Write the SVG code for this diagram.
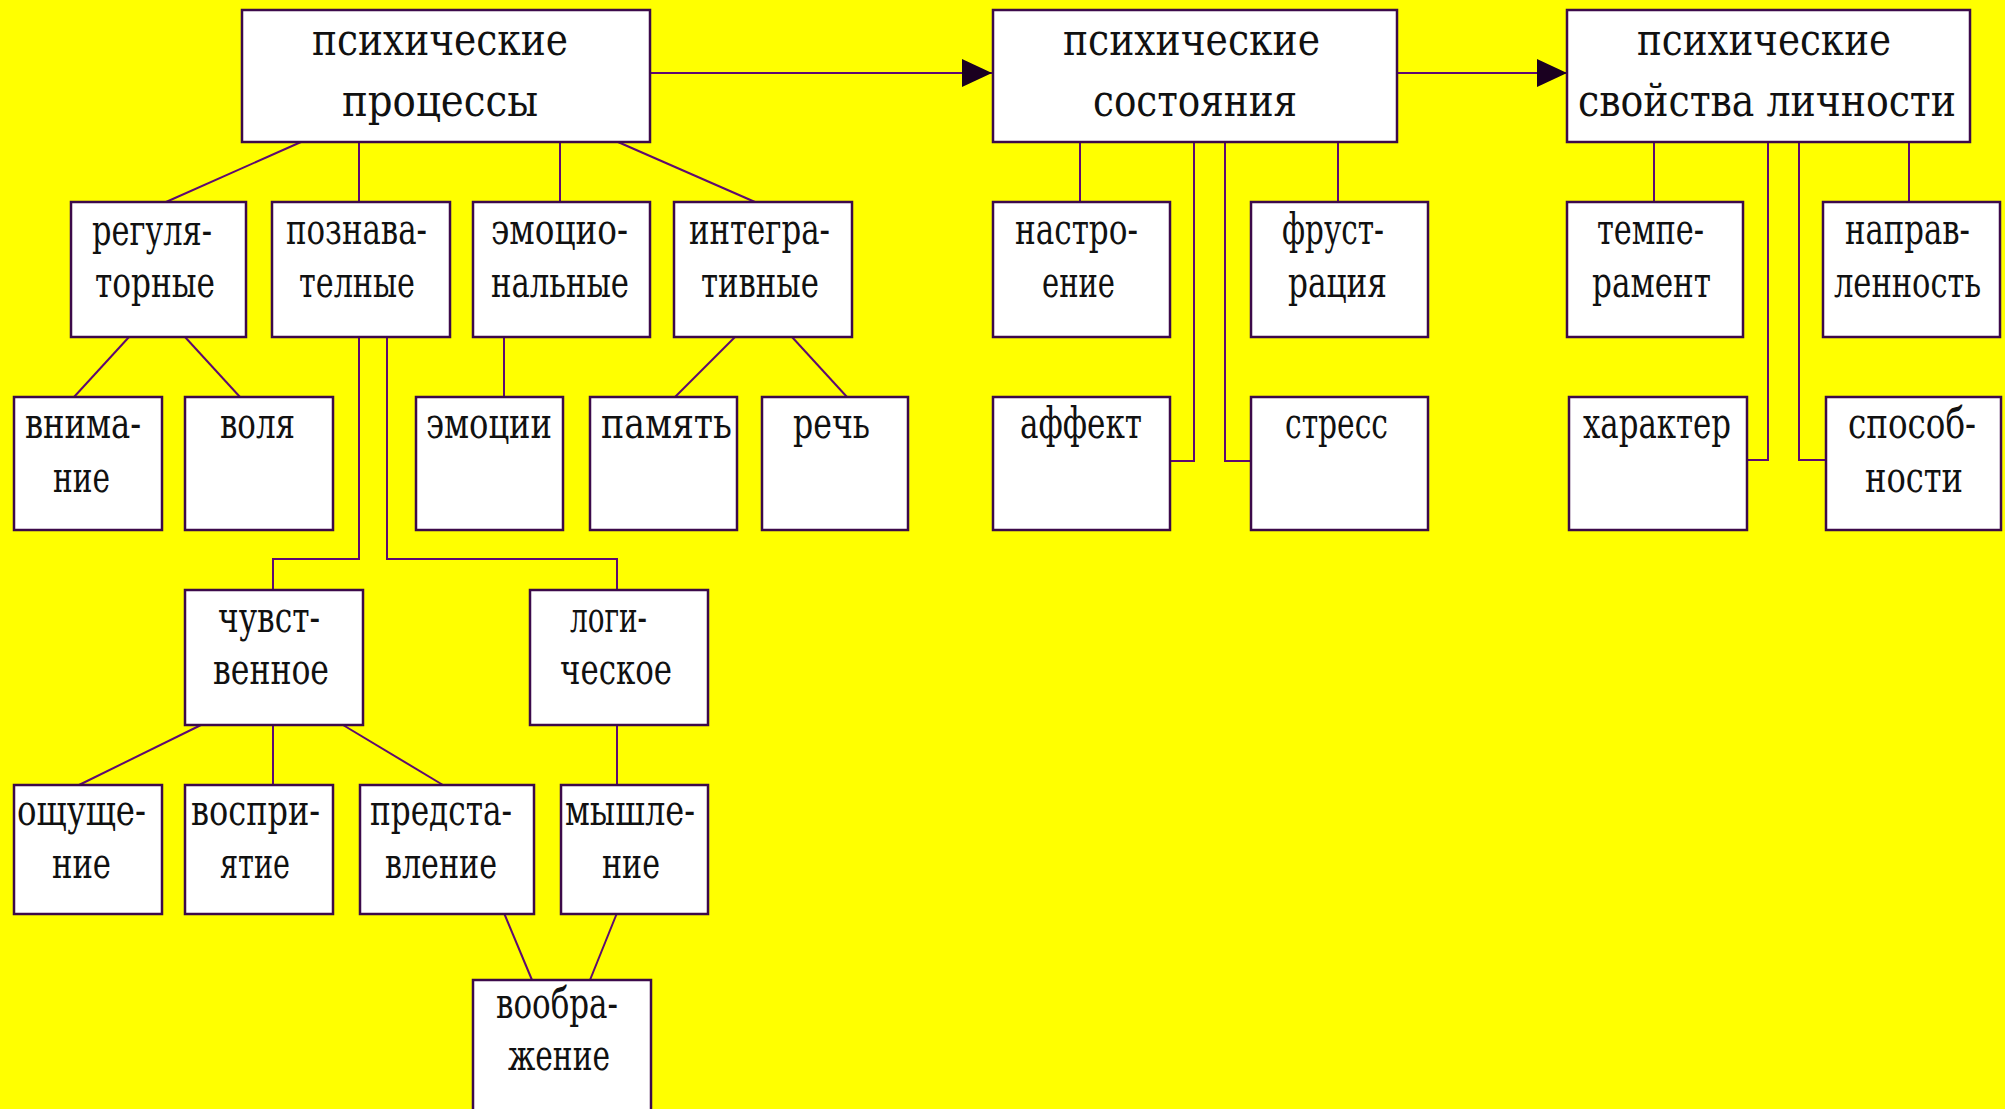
<svg xmlns="http://www.w3.org/2000/svg" width="2005" height="1109" viewBox="0 0 2005 1109">
<style>
.box{fill:#ffffff;stroke:#3c0a4a;stroke-width:2.5}
.ln{stroke:#5e0a70;stroke-width:2;fill:none}
.t{font-family:'DejaVu Serif Condensed','DejaVu Serif',serif;font-stretch:condensed;font-size:42px;fill:#111111}
.tt{font-size:44px}
.ts{font-size:36px}
</style>
<defs>
<marker id="arr" viewBox="0 0 30 28" refX="30" refY="14" markerWidth="30" markerHeight="28" markerUnits="userSpaceOnUse" orient="auto">
<path d="M0,0 L30,14 L0,28 Z" fill="#1a0020"/>
</marker>
</defs>
<rect x="0" y="0" width="2005" height="1109" fill="#ffff00"/>
<g id="connectors">
<line class="ln" x1="650" y1="73" x2="992" y2="73" marker-end="url(#arr)"/>
<line class="ln" x1="1397" y1="73" x2="1567" y2="73" marker-end="url(#arr)"/>
<line class="ln" x1="301" y1="142" x2="166" y2="202"/>
<line class="ln" x1="359" y1="142" x2="359" y2="202"/>
<line class="ln" x1="560" y1="142" x2="560" y2="202"/>
<line class="ln" x1="618" y1="142" x2="755" y2="202"/>
<line class="ln" x1="129" y1="337" x2="74" y2="397"/>
<line class="ln" x1="185" y1="337" x2="240" y2="397"/>
<line class="ln" x1="504" y1="337" x2="504" y2="397"/>
<line class="ln" x1="735" y1="337" x2="675" y2="397"/>
<line class="ln" x1="792" y1="337" x2="847" y2="397"/>
<polyline class="ln" points="359,337 359,559 273,559 273,590"/>
<polyline class="ln" points="387,337 387,559 617,559 617,590"/>
<line class="ln" x1="201" y1="725" x2="79" y2="785"/>
<line class="ln" x1="273" y1="725" x2="273" y2="785"/>
<line class="ln" x1="343" y1="725" x2="443" y2="785"/>
<line class="ln" x1="617" y1="725" x2="617" y2="785"/>
<line class="ln" x1="504" y1="913" x2="532" y2="980"/>
<line class="ln" x1="617" y1="913" x2="590" y2="980"/>
<line class="ln" x1="1080" y1="142" x2="1080" y2="202"/>
<polyline class="ln" points="1194,142 1194,461 1170,461"/>
<polyline class="ln" points="1225,142 1225,461 1251,461"/>
<line class="ln" x1="1338" y1="142" x2="1338" y2="202"/>
<line class="ln" x1="1654" y1="142" x2="1654" y2="202"/>
<polyline class="ln" points="1768,142 1768,460 1747,460"/>
<polyline class="ln" points="1799,142 1799,460 1826,460"/>
<line class="ln" x1="1909" y1="142" x2="1909" y2="202"/>
</g>
<g id="n-processes"><rect class="box" x="242" y="10" width="408" height="132"/>
<text class="t tt" x="312" y="55" textLength="256" lengthAdjust="spacingAndGlyphs">психические</text>
<text class="t tt" x="342" y="116" textLength="196" lengthAdjust="spacingAndGlyphs">процессы</text></g>
<g id="n-states"><rect class="box" x="993" y="10" width="404" height="132"/>
<text class="t tt" x="1063" y="55" textLength="257" lengthAdjust="spacingAndGlyphs">психические</text>
<text class="t tt" x="1093" y="116" textLength="204" lengthAdjust="spacingAndGlyphs">состояния</text></g>
<g id="n-properties"><rect class="box" x="1567" y="10" width="403" height="132"/>
<text class="t tt" x="1637" y="55" textLength="254" lengthAdjust="spacingAndGlyphs">психические</text>
<text class="t tt" x="1578" y="116" textLength="378" lengthAdjust="spacingAndGlyphs">свойства личности</text></g>

<g id="n-regulatory"><rect class="box" x="71" y="202" width="175" height="135"/>
<text class="t" x="92" y="245" textLength="120" lengthAdjust="spacingAndGlyphs">регуля-</text>
<text class="t" x="95" y="297" textLength="120" lengthAdjust="spacingAndGlyphs">торные</text></g>
<g id="n-cognitive"><rect class="box" x="272" y="202" width="178" height="135"/>
<text class="t" x="286" y="244" textLength="141" lengthAdjust="spacingAndGlyphs">познава-</text>
<text class="t" x="299" y="297" textLength="116" lengthAdjust="spacingAndGlyphs">телные</text></g>
<g id="n-emotional"><rect class="box" x="473" y="202" width="177" height="135"/>
<text class="t" x="491" y="244" textLength="137" lengthAdjust="spacingAndGlyphs">эмоцио-</text>
<text class="t" x="491" y="297" textLength="138" lengthAdjust="spacingAndGlyphs">нальные</text></g>
<g id="n-integrative"><rect class="box" x="674" y="202" width="178" height="135"/>
<text class="t" x="689" y="244" textLength="141" lengthAdjust="spacingAndGlyphs">интегра-</text>
<text class="t" x="701" y="297" textLength="118" lengthAdjust="spacingAndGlyphs">тивные</text></g>
<g id="n-mood"><rect class="box" x="993" y="202" width="177" height="135"/>
<text class="t" x="1015" y="244" textLength="123" lengthAdjust="spacingAndGlyphs">настро-</text>
<text class="t" x="1042" y="297" textLength="73" lengthAdjust="spacingAndGlyphs">ение</text></g>
<g id="n-frustration"><rect class="box" x="1251" y="202" width="177" height="135"/>
<text class="t" x="1282" y="244" textLength="102" lengthAdjust="spacingAndGlyphs">фруст-</text>
<text class="t" x="1288" y="297" textLength="99" lengthAdjust="spacingAndGlyphs">рация</text></g>
<g id="n-temperament"><rect class="box" x="1567" y="202" width="176" height="135"/>
<text class="t" x="1597" y="244" textLength="107" lengthAdjust="spacingAndGlyphs">темпе-</text>
<text class="t" x="1592" y="297" textLength="119" lengthAdjust="spacingAndGlyphs">рамент</text></g>
<g id="n-orientation"><rect class="box" x="1823" y="202" width="177" height="135"/>
<text class="t" x="1845" y="244" textLength="125" lengthAdjust="spacingAndGlyphs">направ-</text>
<text class="t ts" x="1834" y="297" textLength="147" lengthAdjust="spacingAndGlyphs" transform="translate(0,297) scale(1,1.17) translate(0,-297)">ленность</text></g>

<g id="n-attention"><rect class="box" x="14" y="397" width="148" height="133"/>
<text class="t" x="25" y="438" textLength="116" lengthAdjust="spacingAndGlyphs">внима-</text>
<text class="t" x="53" y="492" textLength="57" lengthAdjust="spacingAndGlyphs">ние</text></g>
<g id="n-will"><rect class="box" x="185" y="397" width="148" height="133"/>
<text class="t" x="220" y="438" textLength="75" lengthAdjust="spacingAndGlyphs">воля</text></g>
<g id="n-emotions"><rect class="box" x="416" y="397" width="147" height="133"/>
<text class="t" x="426" y="438" textLength="126" lengthAdjust="spacingAndGlyphs">эмоции</text></g>
<g id="n-memory"><rect class="box" x="590" y="397" width="147" height="133"/>
<text class="t" x="601" y="438" textLength="131" lengthAdjust="spacingAndGlyphs">память</text></g>
<g id="n-speech"><rect class="box" x="762" y="397" width="146" height="133"/>
<text class="t" x="793" y="438" textLength="77" lengthAdjust="spacingAndGlyphs">речь</text></g>
<g id="n-affect"><rect class="box" x="993" y="397" width="177" height="133"/>
<text class="t" x="1020" y="438" textLength="122" lengthAdjust="spacingAndGlyphs">аффект</text></g>
<g id="n-stress"><rect class="box" x="1251" y="397" width="177" height="133"/>
<text class="t" x="1285" y="438" textLength="103" lengthAdjust="spacingAndGlyphs">стресс</text></g>
<g id="n-character"><rect class="box" x="1569" y="397" width="178" height="133"/>
<text class="t" x="1583" y="438" textLength="148" lengthAdjust="spacingAndGlyphs">характер</text></g>
<g id="n-abilities"><rect class="box" x="1826" y="397" width="175" height="133"/>
<text class="t" x="1848" y="438" textLength="128" lengthAdjust="spacingAndGlyphs">способ-</text>
<text class="t" x="1865" y="492" textLength="98" lengthAdjust="spacingAndGlyphs">ности</text></g>

<g id="n-sensory"><rect class="box" x="185" y="590" width="178" height="135"/>
<text class="t" x="218" y="632" textLength="102" lengthAdjust="spacingAndGlyphs">чувст-</text>
<text class="t" x="213" y="684" textLength="116" lengthAdjust="spacingAndGlyphs">венное</text></g>
<g id="n-logical"><rect class="box" x="530" y="590" width="178" height="135"/>
<text class="t" x="570" y="632" textLength="77" lengthAdjust="spacingAndGlyphs">логи-</text>
<text class="t" x="560" y="684" textLength="112" lengthAdjust="spacingAndGlyphs">ческое</text></g>

<g id="n-sensation"><rect class="box" x="14" y="785" width="148" height="129"/>
<text class="t" x="17" y="825" textLength="129" lengthAdjust="spacingAndGlyphs">ощуще-</text>
<text class="t" x="52" y="878" textLength="59" lengthAdjust="spacingAndGlyphs">ние</text></g>
<g id="n-perception"><rect class="box" x="185" y="785" width="148" height="129"/>
<text class="t" x="191" y="825" textLength="129" lengthAdjust="spacingAndGlyphs">воспри-</text>
<text class="t" x="220" y="878" textLength="70" lengthAdjust="spacingAndGlyphs">ятие</text></g>
<g id="n-representation"><rect class="box" x="360" y="785" width="174" height="129"/>
<text class="t" x="370" y="825" textLength="142" lengthAdjust="spacingAndGlyphs">предста-</text>
<text class="t" x="385" y="878" textLength="112" lengthAdjust="spacingAndGlyphs">вление</text></g>
<g id="n-thinking"><rect class="box" x="561" y="785" width="147" height="129"/>
<text class="t" x="565" y="825" textLength="130" lengthAdjust="spacingAndGlyphs">мышле-</text>
<text class="t" x="602" y="878" textLength="58" lengthAdjust="spacingAndGlyphs">ние</text></g>

<g id="n-imagination"><rect class="box" x="473" y="980" width="178" height="140"/>
<text class="t" x="496" y="1018" textLength="122" lengthAdjust="spacingAndGlyphs">вообра-</text>
<text class="t" x="508" y="1070" textLength="102" lengthAdjust="spacingAndGlyphs">жение</text></g>
</svg>
